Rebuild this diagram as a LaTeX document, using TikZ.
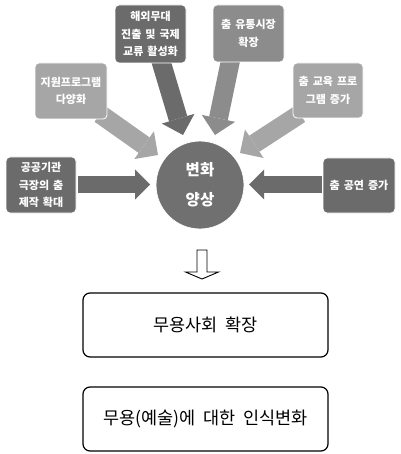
\documentclass[tikz,border=0pt]{standalone}
\usepackage{fontspec}
\newfontfamily\kr{Noto Sans CJK KR}
\usetikzlibrary{arrows.meta}
\definecolor{gdark}{HTML}{6B6B6B}
\definecolor{gmid}{HTML}{8C8C8C}
\definecolor{glight}{HTML}{A6A6A6}
\definecolor{gcirc}{HTML}{707070}
\protected\def\krboxfont{\kr\bfseries\fontsize{11}{17.5}\selectfont\spaceskip=0.36em\relax}
\protected\def\kroutfont{\kr\fontsize{17.5}{20}\selectfont\spaceskip=0.45em\relax}
\begin{document}
\begin{tikzpicture}[x=1pt,y=-1pt,
  box/.style={rectangle, rounded corners=4pt, draw=white, line width=0.8pt, text=white,
    font=\krboxfont, align=center, inner sep=0pt},
  harrow/.style={line width=17pt, -{Triangle[width=30pt,length=15pt,line width=0pt]}},
  darrow/.style={line width=19pt, -{Triangle[width=34pt,length=17pt,line width=0pt]}},
  outbox/.style={rectangle, rounded corners=7pt, draw=black, line width=1.2pt,
    minimum width=245pt, minimum height=64pt, inner sep=0pt,
    font=\kroutfont},
  openarrow/.style={draw=black, line width=0.9pt, fill=white, line join=miter}
]
\useasboundingbox (0,0) rectangle (400,454);

% arrow end points
\coordinate (s1) at (78,184.5);  \coordinate (t1) at (150,184.5);
\coordinate (s2) at (322,184.5); \coordinate (t2) at (249,184.5);
\coordinate (s3) at (100,114);   \coordinate (t3) at (158,155);
\coordinate (s4) at (300,114);   \coordinate (t4) at (240,153);
\coordinate (s5) at (160,58);    \coordinate (t5) at (183,135);
\coordinate (s6) at (231,58);    \coordinate (t6) at (215,135);

\draw[harrow, gdark] (s1) -- (t1);
\draw[harrow, gdark] (s2) -- (t2);
\draw[darrow, glight] (s3) -- (t3);
\draw[darrow, glight] (s4) -- (t4);
\draw[darrow, gdark] (s5) -- (t5);
\draw[darrow, gmid] (s6) -- (t6);

% boxes
\node[box, fill=gdark, minimum width=70pt, minimum height=56pt] (A) at (41,185) {공공기관\\극장의 춤\\제작 확대};
\node[box, fill=glight, minimum width=72pt, minimum height=56pt] (B) at (71,91) {지원프로그램\\다양화};
\node[box, fill=gdark, minimum width=71pt, minimum height=58pt] (C) at (150.5,34) {해외무대\\진출 및 국제\\교류 활성화};
\node[box, fill=gmid, minimum width=71pt, minimum height=57pt] (D) at (248.5,33.5) {춤 유통시장\\확장};
\node[box, fill=glight, minimum width=70pt, minimum height=55pt] (E) at (328,90.5) {춤 교육 프로\\그램 증가};
\node[box, fill=gdark, minimum width=72pt, minimum height=55pt] (F) at (359,185.5) {춤 공연 증가};

\node[circle, fill=gcirc, draw=white, line width=0.8pt, minimum size=88pt, inner sep=0pt,
  text=white, align=center, font=\kr\bfseries\fontsize{15.5}{30}\selectfont] (c) at (200,185) {변화\\양상};

% open down arrow
\draw[openarrow] (197,250) coordinate (oa) -- (207,250) -- (207,272) -- (218.5,272)
  -- (202,279) coordinate (ob) -- (185.5,272) -- (197,272) -- cycle;

\node[outbox] (o1) at (205.5,325) {무용사회 확장};
\node[outbox] (o2) at (205.5,419) {무용(예술)에 대한 인식변화};
\end{tikzpicture}
\end{document}
